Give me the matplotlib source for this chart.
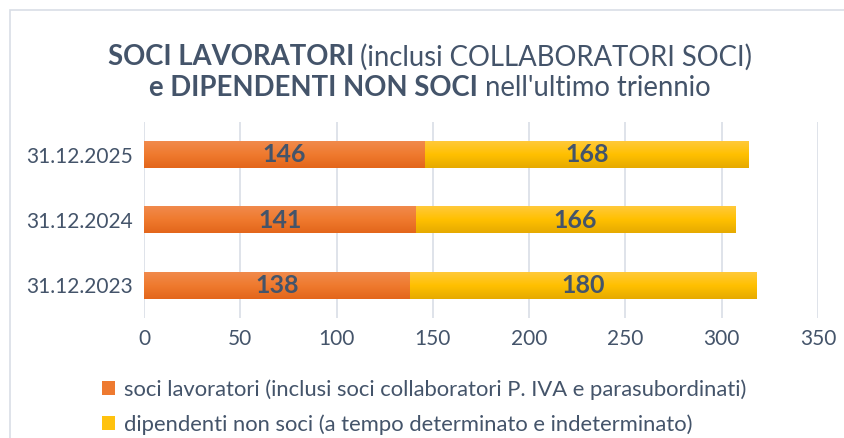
import matplotlib
matplotlib.use("Agg")
import numpy as np
import matplotlib.pyplot as plt
from matplotlib.patches import Rectangle, Patch
from matplotlib.colors import LinearSegmentedColormap

categories = ["31.12.2023", "31.12.2024", "31.12.2025"]
soci = [138, 141, 146]
dipendenti = [180, 166, 168]
xticks = [0, 50, 100, 150, 200, 250, 300, 350]
legend_labels = ["soci lavoratori (inclusi soci collaboratori P. IVA e parasubordinati)",
                 "dipendenti non soci (a tempo determinato e indeterminato)"]

plt.rcParams['font.family'] = ['Lato', 'DejaVu Sans']
txt = "#44546A"
c_orange = "#EE7A30"
c_yellow = "#FFC20E"
cm_orange = LinearSegmentedColormap.from_list("o", ["#E3661B", "#EF7A2E", "#F18A4C"])
cm_yellow = LinearSegmentedColormap.from_list("y", ["#E6AA00", "#FFC000", "#FFC93A"])

fig = plt.figure(figsize=(8.44, 4.38), dpi=100)
fig.patches.append(Rectangle((10/844, -0.1), 1.2, (438-10)/438 + 0.1, transform=fig.transFigure,
                             fill=False, edgecolor="#D9DEE6", linewidth=1.2))

ax = fig.add_axes([144/844, 1 - 318/438, (818-144)/844, (318-122)/438])
y = list(range(len(categories)))
b1 = ax.barh(y, soci, height=0.41, color=c_orange, zorder=3)
b2 = ax.barh(y, dipendenti, left=soci, height=0.41, color=c_yellow, zorder=3)
grad = np.linspace(0, 1, 64).reshape(-1, 1)
for bars, cm in ((b1, cm_orange), (b2, cm_yellow)):
    for p in bars:
        x0, y0, w, h = p.get_x(), p.get_y(), p.get_width(), p.get_height()
        ax.imshow(grad, cmap=cm, aspect="auto", extent=(x0, x0 + w, y0, y0 + h),
                  origin="lower", zorder=3.5, interpolation="bilinear")
for i in y:
    ax.text(soci[i] / 2, i, str(soci[i]), ha="center", va="center", color=txt,
            fontsize=18, fontweight="bold", zorder=4)
    ax.text(soci[i] + dipendenti[i] / 2, i, str(dipendenti[i]), ha="center", va="center",
            color=txt, fontsize=18, fontweight="bold", zorder=4)

ax.set_xlim(0, 350)
ax.set_ylim(-0.5, 2.5)
ax.set_xticks(xticks)
ax.set_yticks(y)
ax.set_yticklabels(categories)
ax.tick_params(axis="both", length=0, labelsize=15, labelcolor=txt)
ax.tick_params(axis="x", pad=8)
ax.tick_params(axis="y", pad=8)
ax.grid(axis="x", color="#D9DEE6", linewidth=1.2, zorder=0)
for s in ax.spines.values():
    s.set_visible(False)

def title_line(parts, yc, cx=430):
    renderer = fig.canvas.get_renderer()
    objs = []
    for s, w in parts:
        o = fig.text(0, 1 - yc/438, s, fontsize=19.8, fontweight=w, color=txt, va="center", ha="left")
        objs.append(o)
    widths = [o.get_window_extent(renderer).width for o in objs]
    total = sum(widths)
    x = cx - total / 2
    for o, w in zip(objs, widths):
        o.set_x(x / 844)
        x += w
title_line([("SOCI LAVORATORI ", "bold"), ("(inclusi COLLABORATORI SOCI)", "normal")], 57)
title_line([("e DIPENDENTI NON SOCI ", "bold"), ("nell'ultimo triennio", "normal")], 88)

handles = [Patch(facecolor=c_orange), Patch(facecolor=c_yellow)]
fig.legend(handles, legend_labels, loc="upper left", bbox_to_anchor=(102/844, 1 - 379/438),
           frameon=False, fontsize=15.8, labelcolor=txt, handlelength=0.6, handleheight=0.6,
           handletextpad=0.4, labelspacing=0.68, borderpad=0, borderaxespad=0)

fig.savefig("out.png", dpi=100)
